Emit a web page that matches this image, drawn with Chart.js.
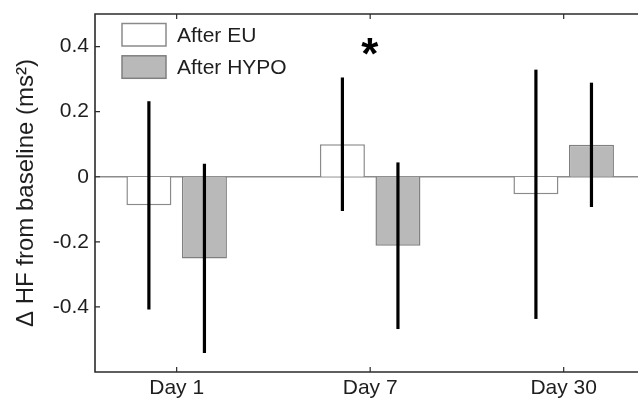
<!DOCTYPE html>
<html>
<head>
<meta charset="utf-8">
<script src="https://cdn.jsdelivr.net/npm/chart.js@4/dist/chart.umd.min.js"></script>
<style>
  html, body { margin: 0; padding: 0; background: #fff; overflow: hidden; }
  canvas { display: block; }
</style>
</head>
<body>
<canvas id="c" width="638" height="403"></canvas>
<script>
// Change in HF power from baseline, mean ± SD per visit
const days = ['Day 1', 'Day 7', 'Day 30'];
const dayPos = [1, 2, 3];
const afterEU = [-0.088, 0.100, -0.054];
const afterEUErr = [0.320, 0.205, 0.383];
const afterHYPO = [-0.251, -0.212, 0.098];
const afterHYPOErr = [0.291, 0.256, 0.191];
const seriesNames = ['After EU', 'After HYPO'];
const yTickValues = [-0.4, -0.2, 0, 0.2, 0.4];
const yTickLabels = ['-0.4', '-0.2', '0', '0.2', '0.4'];
const sigMarks = [{ day: 2, y: 0.40, text: '*' }];

const FONT = "'Liberation Sans', Arial, Helvetica, sans-serif";
const INK = '#1e1e1e';
const AXIS = '#2b2b2b';

const euStyle = { fill: '#ffffff', border: '#8a8a8a' };
const hypoStyle = { fill: '#b9b9b9', border: '#808080' };

const errors = [afterEUErr, afterHYPOErr];

const figurePlugin = {
  id: 'figure',
  beforeDatasetsDraw(chart) {
    const { ctx, chartArea, scales } = chart;
    const y0 = scales.y.getPixelForValue(0);
    ctx.save();
    ctx.strokeStyle = '#8c8c8c';
    ctx.lineWidth = 1.5;
    ctx.beginPath();
    ctx.moveTo(chartArea.left, y0);
    ctx.lineTo(chartArea.right, y0);
    ctx.stroke();
    ctx.restore();
  },
  afterDatasetsDraw(chart) {
    const { ctx, chartArea, scales } = chart;
    const xs = scales.x, ys = scales.y;
    ctx.save();

    // error bars
    ctx.strokeStyle = '#000';
    ctx.lineWidth = 3.2;
    ctx.lineCap = 'butt';
    chart.data.datasets.forEach((ds, di) => {
      const meta = chart.getDatasetMeta(di);
      meta.data.forEach((bar, i) => {
        const m = ds.data[i].y, e = errors[di][i];
        ctx.beginPath();
        ctx.moveTo(bar.x, ys.getPixelForValue(m + e));
        ctx.lineTo(bar.x, ys.getPixelForValue(m - e));
        ctx.stroke();
      });
    });

    // significance marker
    ctx.fillStyle = '#000';
    ctx.font = 'bold 44px ' + FONT;
    ctx.textAlign = 'left';
    ctx.textBaseline = 'alphabetic';
    sigMarks.forEach(s => {
      const tm = ctx.measureText(s.text);
      const cx = xs.getPixelForValue(s.day);
      const cy = ys.getPixelForValue(s.y);
      const w = tm.actualBoundingBoxLeft + tm.actualBoundingBoxRight;
      const h = tm.actualBoundingBoxAscent + tm.actualBoundingBoxDescent;
      ctx.fillText(s.text, cx - w / 2 + tm.actualBoundingBoxLeft,
                   cy - h / 2 + tm.actualBoundingBoxAscent);
    });

    // legend
    const styles = [euStyle, hypoStyle];
    const lx = chartArea.left + 27, ly = chartArea.top + 9.5, bw = 44, bh = 22.5, gap = 32.3;
    ctx.font = '21px ' + FONT;
    ctx.textBaseline = 'middle';
    ctx.textAlign = 'left';
    seriesNames.forEach((name, i) => {
      const top = ly + i * gap;
      ctx.fillStyle = styles[i].fill;
      ctx.fillRect(lx, top, bw, bh);
      ctx.strokeStyle = styles[i].border;
      ctx.lineWidth = 1.5;
      ctx.strokeRect(lx, top, bw, bh);
      ctx.fillStyle = INK;
      ctx.fillText(name, lx + bw + 11, top + bh / 2 + 1);
    });

    // axes box with inward ticks
    ctx.strokeStyle = AXIS;
    ctx.lineWidth = 1.6;
    ctx.beginPath();
    ctx.moveTo(chartArea.right + 2, chartArea.top);
    ctx.lineTo(chartArea.left, chartArea.top);
    ctx.lineTo(chartArea.left, chartArea.bottom);
    ctx.lineTo(chartArea.right + 2, chartArea.bottom);
    ctx.stroke();
    ctx.lineWidth = 1.2;
    ctx.beginPath();
    yTickValues.forEach(v => {
      const py = ys.getPixelForValue(v);
      ctx.moveTo(chartArea.left, py);
      ctx.lineTo(chartArea.left + 5, py);
    });
    dayPos.forEach(v => {
      const px = xs.getPixelForValue(v);
      ctx.moveTo(px, chartArea.bottom);
      ctx.lineTo(px, chartArea.bottom - 5);
      ctx.moveTo(px, chartArea.top);
      ctx.lineTo(px, chartArea.top + 5);
    });
    ctx.stroke();
    ctx.restore();
  }
};

const toPoints = vals => vals.map((v, i) => ({ x: dayPos[i], y: v }));

new Chart(document.getElementById('c'), {
  type: 'bar',
  data: {
    datasets: [
      {
        label: seriesNames[0],
        data: toPoints(afterEU),
        backgroundColor: euStyle.fill,
        borderColor: euStyle.border,
        borderWidth: 1.5
      },
      {
        label: seriesNames[1],
        data: toPoints(afterHYPO),
        backgroundColor: hypoStyle.fill,
        borderColor: hypoStyle.border,
        borderWidth: 1.5
      }
    ]
  },
  options: {
    responsive: false,
    animation: false,
    devicePixelRatio: 1,
    categoryPercentage: 0.574,
    barPercentage: 0.81,
    layout: { padding: { top: 14, right: 0, bottom: 0, left: 0 } },
    plugins: {
      legend: { display: false },
      tooltip: { enabled: false }
    },
    scales: {
      x: {
        type: 'linear',
        offset: false,
        min: 0.578,
        max: 3.384,
        grid: { display: false, drawTicks: false },
        border: { display: false },
        afterBuildTicks: s => { s.ticks = dayPos.map(v => ({ value: v })); },
        afterFit: s => { s.height = 31; s.paddingLeft = 0; s.paddingRight = 0; },
        ticks: {
          autoSkip: false,
          maxRotation: 0,
          padding: 4,
          color: INK,
          font: { family: FONT, size: 21 },
          callback: v => days[dayPos.indexOf(v)]
        }
      },
      y: {
        min: -0.6,
        max: 0.5,
        grid: { display: false, drawTicks: false },
        border: { display: false },
        afterBuildTicks: s => { s.ticks = yTickValues.map(v => ({ value: v })); },
        afterFit: s => { s.width = 95; s.paddingTop = 0; s.paddingBottom = 0; },
        ticks: {
          padding: 6,
          color: INK,
          font: { family: FONT, size: 21 },
          callback: v => yTickLabels[yTickValues.indexOf(v)]
        },
        title: {
          display: true,
          text: 'Δ HF from baseline (ms²)',
          color: INK,
          font: { family: FONT, size: 24 },
          padding: { top: 12, bottom: 0 }
        }
      }
    }
  },
  plugins: [figurePlugin]
});
</script>
</body>
</html>
